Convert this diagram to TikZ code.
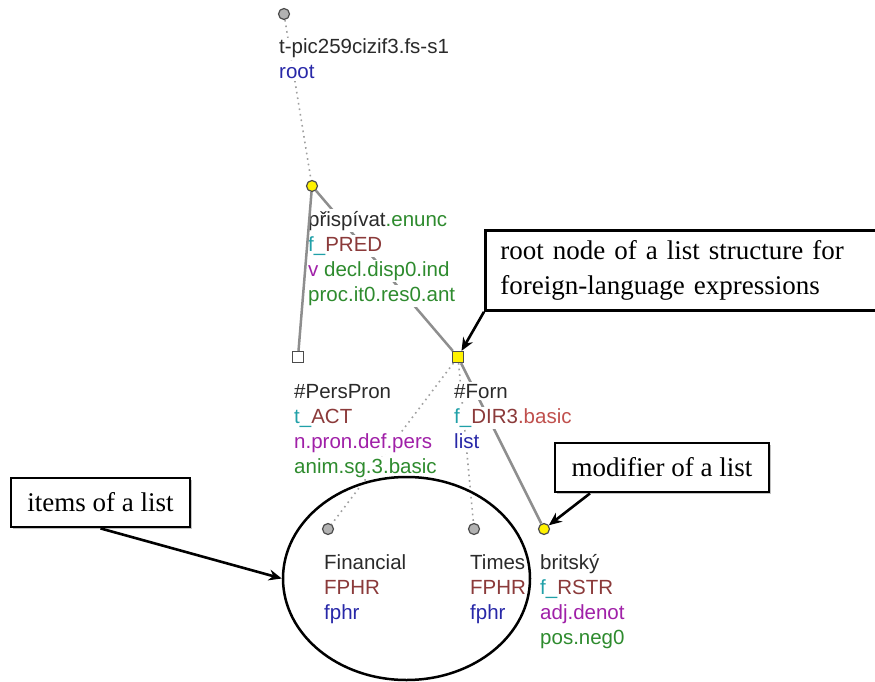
\documentclass[tikz,border=0pt]{standalone}
\usepackage{fontspec}
\setmainfont{Liberation Serif}
\setsansfont{Liberation Sans}
\usetikzlibrary{arrows.meta,shapes.geometric,shadows}
\definecolor{lem}{HTML}{2A2A2A}
\definecolor{grn}{HTML}{2E8B2E}
\definecolor{cyn}{HTML}{20A0A8}
\definecolor{brn}{HTML}{8B3A3A}
\definecolor{lbrn}{HTML}{C0504D}
\definecolor{mag}{HTML}{A020A8}
\definecolor{blu}{HTML}{2828A8}
\definecolor{edg}{HTML}{8E8E8E}
\definecolor{dotc}{HTML}{A0A0A0}
\begin{document}
\begin{tikzpicture}[x=1pt,y=-1pt,
  lbl/.style={anchor=base west, fill=white, inner xsep=1pt, inner ysep=1.5pt,
    font=\sffamily\fontsize{20.5}{24}\selectfont, text=lem},
  gcirc/.style={circle, draw=black!70, fill=black!30, line width=1.2pt, minimum size=11pt, inner sep=0pt},
  ycirc/.style={circle, draw=black!70, fill=yellow, line width=1.2pt, minimum size=11pt, inner sep=0pt},
  ysq/.style={rectangle, draw=black!70, fill=yellow, line width=1.2pt, minimum size=11pt, inner sep=0pt},
  wsq/.style={rectangle, draw=black!70, fill=white, line width=1.2pt, minimum size=11pt, inner sep=0pt},
  soledge/.style={draw=edg, line width=2.5pt},
  dotedge/.style={draw=dotc, line width=1.6pt, dash pattern=on 1.6pt off 4pt},
  callout/.style={draw=black, line width=2.8pt, fill=white, inner sep=0pt,
    drop shadow={shadow xshift=1.5pt, shadow yshift=-1.5pt, fill=black!40, opacity=0.6},
    font=\fontsize{27}{35}\selectfont},
  arr/.style={draw=black, line width=2.6pt, -{Stealth[length=13pt,width=11pt]}}
]
\useasboundingbox (0,0) rectangle (875,682);
\clip (0,0) rectangle (875,682);

% tree nodes
\node[gcirc] (t0) at (284,14) {};
\node[ycirc] (p) at (312,186) {};
\node[wsq] (pp) at (298,357) {};
\node[ysq] (f) at (458,357) {};
\node[gcirc] (fin) at (328,529) {};
\node[gcirc] (tim) at (474,529) {};
\node[ycirc] (bri) at (544,529) {};

% edges
\draw[dotedge] (t0) -- (p);
\draw[soledge] (p) -- (f);
\draw[dotedge] (f) -- (fin);
\draw[dotedge] (f) -- (tim);
\draw[soledge] (f) -- (bri);

% labels
\node[lbl] (t0a) at (278,54) {t-pic259cizif3.fs-s1};
\node[lbl] (t0b) at (278,79) {\textcolor{blu}{root}};

\node[lbl] (pa) at (307,226) {přispívat\textcolor{grn}{.enunc}};
\node[lbl] (pb) at (307,251) {\textcolor{cyn}{f\_}\textcolor{brn}{PRED}};
\node[lbl] (pc) at (307,276) {\textcolor{mag}{v} \textcolor{grn}{decl.disp0.ind}};
\node[lbl] (pd) at (307,301) {\textcolor{grn}{proc.it0.res0.ant}};

\node[lbl] (ppa) at (293,398) {\#PersPron};
\node[lbl] (ppb) at (293,423) {\textcolor{cyn}{t\_}\textcolor{brn}{ACT}};
\node[lbl] (ppc) at (293,448) {\textcolor{mag}{n.pron.def.pers}};
\node[lbl] (ppd) at (293,473) {\textcolor{grn}{anim.sg.3.basic}};

\node[lbl] (fa) at (453,398) {\#Forn};
\node[lbl] (fb) at (453,423) {\textcolor{cyn}{f\_}\textcolor{brn}{DIR3}\textcolor{lbrn}{.basic}};
\node[lbl] (fc) at (453,448) {\textcolor{blu}{list}};

\node[lbl] (fina) at (323,569) {Financial};
\node[lbl] (finb) at (323,594) {\textcolor{brn}{FPHR}};
\node[lbl] (finc) at (323,619) {\textcolor{blu}{fphr}};

\node[lbl] (tima) at (469,569) {Times};
\node[lbl] (timb) at (469,594) {\textcolor{brn}{FPHR}};
\node[lbl] (timc) at (469,619) {\textcolor{blu}{fphr}};

\node[lbl] (bria) at (539,569) {britský};
\node[lbl] (brib) at (539,594) {\textcolor{cyn}{f\_}\textcolor{brn}{RSTR}};
\node[lbl] (bric) at (539,619) {\textcolor{mag}{adj.denot}};
\node[lbl] (brid) at (539,644) {\textcolor{grn}{pos.neg0}};

% edge drawn over the labels
\draw[soledge] (p) -- (pp);

% list ellipse
\node[ellipse, draw=black, line width=2.5pt, minimum width=247pt, minimum height=203pt, inner sep=0pt] (lst) at (406.5,578.5) {};

% callouts
\node[callout, anchor=north west, minimum width=420pt, minimum height=80pt,
      text width=390pt, inner xsep=15pt, align=left] (rootbox) at (484,229)
      {root node of a list structure for\\foreign-language expressions};
\node[callout, minimum width=179pt, minimum height=49pt] (items) at (100.5,502.5) {items of a list};
\node[callout, minimum width=214pt, minimum height=49pt] (mod) at (662,467.5) {modifier of a list};

\draw[arr] (rootbox.south west) -- (f);
\draw[arr] (items.south) -- (lst.west);
\draw[arr] ([xshift=-72pt]mod.south) -- (bri);
\end{tikzpicture}
\end{document}
